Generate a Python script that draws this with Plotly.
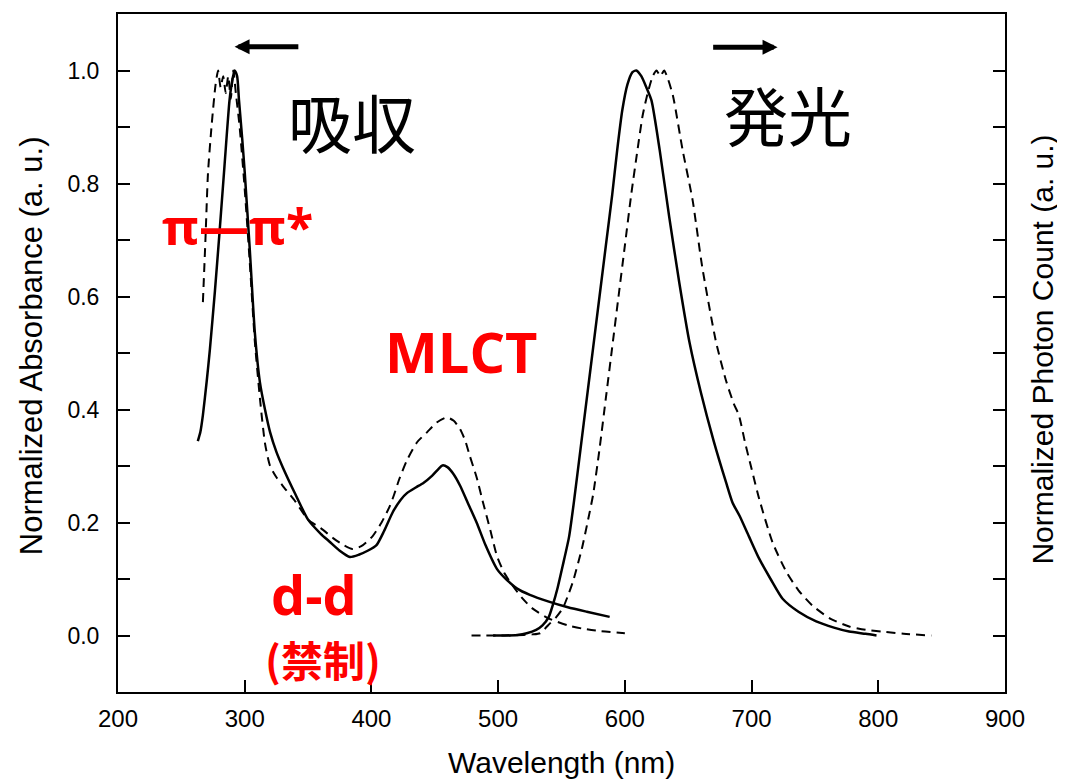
import plotly.graph_objects as go

# ---------------- data ----------------
abs_solid_wl = [263, 265, 267, 270, 272.5, 276.5, 280, 284, 288, 290, 292, 294, 295.5, 298, 300,
                304, 308, 312, 316, 320, 325, 330, 340, 350, 360, 367, 375, 383, 390, 397, 404,
                410, 417, 423, 428, 435, 441, 448, 453, 456, 460, 465, 470, 476, 483, 490, 499,
                507, 515, 525, 540, 555, 570, 588]
abs_solid_val = [0.344, 0.36, 0.39, 0.45, 0.506, 0.61, 0.71, 0.83, 0.947, 0.98, 1.0, 0.99, 0.947, 0.88, 0.82,
                 0.683, 0.536, 0.448, 0.40, 0.36, 0.325, 0.298, 0.25, 0.205, 0.18, 0.166, 0.15, 0.139, 0.143, 0.15, 0.16,
                 0.185, 0.219, 0.24, 0.252, 0.262, 0.27, 0.283, 0.295, 0.301, 0.298, 0.285, 0.265, 0.235, 0.2, 0.16, 0.118,
                 0.098, 0.083, 0.072, 0.06, 0.05, 0.042, 0.033]

abs_dash_wl = [267, 269, 271, 274, 277, 279, 281, 283, 285, 287, 289, 291, 293, 296, 300, 304, 308, 312,
               316, 320, 325, 330, 340, 350, 360, 370, 378, 385, 392, 401, 408, 414.5, 418, 422, 428,
               436, 444, 451.5, 459.5, 465, 470, 474, 477.6, 483, 488, 494, 499, 505, 511.5, 519, 527,
               540, 555, 567, 580, 600]
abs_dash_val = [0.59, 0.70, 0.818, 0.906, 0.975, 1.0, 0.97, 0.99, 0.96, 0.99, 0.95, 1.0, 0.96, 0.90, 0.79, 0.66, 0.52, 0.42,
                0.34, 0.30, 0.28, 0.265, 0.237, 0.205, 0.19, 0.172, 0.16, 0.153, 0.158, 0.176, 0.2, 0.229, 0.25, 0.277, 0.31,
                0.342, 0.36, 0.377, 0.386, 0.38, 0.365, 0.345, 0.318, 0.28, 0.236, 0.185, 0.141, 0.11, 0.088, 0.066, 0.048,
                0.03, 0.018, 0.012, 0.008, 0.004]

em_solid_wl = [496, 505, 515, 522.6, 530, 535, 540, 543, 547, 551, 556, 560, 565, 570, 575, 580, 585,
               590, 594, 598, 602, 606, 609, 613, 617, 621, 627.5, 635, 643, 651, 660, 670, 680, 685,
               690.5, 698, 706, 715, 724.5, 737, 751, 765, 777, 790, 798.6]
em_solid_val = [0.0, 0.0, 0.001, 0.004, 0.01, 0.018, 0.033, 0.053, 0.085, 0.124, 0.175, 0.24, 0.33, 0.42, 0.51, 0.60, 0.69,
                0.78, 0.86, 0.93, 0.975, 0.997, 1.0, 0.99, 0.97, 0.947, 0.859, 0.741, 0.624, 0.519, 0.43, 0.345, 0.27, 0.235,
                0.212, 0.175, 0.136, 0.10, 0.065, 0.042, 0.025, 0.014, 0.007, 0.003, 0.0]

em_dash_wl = [479, 490, 500, 510, 520, 527, 533, 540.7, 546, 551, 555, 559, 566, 571, 575, 580, 585,
              590, 595, 600, 605, 610, 614, 618, 622, 625, 628, 631, 634, 638, 645.6, 653.5, 661, 672, 680, 686,
              690, 695, 700, 706, 716.5, 727.6, 737, 748, 762, 777, 790, 803, 820, 842]
em_dash_val = [0, 0, 0, 0, 0.001, 0.002, 0.004, 0.021, 0.033, 0.048, 0.07, 0.095, 0.153, 0.205, 0.25, 0.33, 0.42,
               0.51, 0.60, 0.69, 0.78, 0.86, 0.92, 0.96, 0.99, 1.0, 0.99, 1.0, 0.985, 0.955, 0.859, 0.77, 0.653, 0.519, 0.45, 0.41,
               0.39, 0.34, 0.295, 0.242, 0.165, 0.112, 0.08, 0.053, 0.03, 0.016, 0.01, 0.007, 0.003, 0.0]

x_ticks = [200, 300, 400, 500, 600, 700, 800, 900]
y_ticks = [0.0, 0.1, 0.2, 0.3, 0.4, 0.5, 0.6, 0.7, 0.8, 0.9, 1.0]
y_ticklabels = ["0.0", "", "0.2", "", "0.4", "", "0.6", "", "0.8", "", "1.0"]

# ---------------- figure ----------------
fig = go.Figure()
solid = dict(color="black", width=2.5, shape="spline", smoothing=0.6)
dashed = dict(color="black", width=2, dash="9px,6px", shape="spline", smoothing=0.6)

fig.add_trace(go.Scatter(x=abs_solid_wl, y=abs_solid_val, mode="lines", line=solid, showlegend=False))
fig.add_trace(go.Scatter(x=abs_dash_wl, y=abs_dash_val, mode="lines", line=dashed, showlegend=False))
fig.add_trace(go.Scatter(x=em_solid_wl, y=em_solid_val, mode="lines", line=solid, showlegend=False))
fig.add_trace(go.Scatter(x=em_dash_wl, y=em_dash_val, mode="lines", line=dashed, showlegend=False))

arial = "Liberation Sans, Arial, sans-serif"
cjk = "Noto Sans CJK JP"
bold = "Open Sans, Noto Sans, sans-serif"

# page body has an 8px margin, so the figure is slightly smaller than the window
fig.update_layout(
    width=1057, height=773,
    margin=dict(l=110, r=60, t=4, b=89),
    paper_bgcolor="white", plot_bgcolor="white",
    xaxis=dict(range=[200, 900], tickvals=x_ticks, ticktext=[str(v) for v in x_ticks],
               ticks="inside", ticklen=12, tickwidth=2, tickcolor="black",
               showline=True, linewidth=2, linecolor="black", mirror=True,
               showgrid=False, zeroline=False, ticklabelstandoff=4,
               tickfont=dict(family=arial, size=24, color="black")),
    yaxis=dict(range=[-0.1, 1.1], tickvals=y_ticks, ticktext=y_ticklabels,
               ticks="inside", ticklen=12, tickwidth=2, tickcolor="black",
               showline=True, linewidth=2, linecolor="black", mirror="ticks",
               showgrid=False, zeroline=False, ticklabelstandoff=12,
               tickfont=dict(family=arial, size=23, color="black")),
)

ann = []
# axis titles
ann.append(dict(text="Normalized Absorbance (a. u.)", xref="paper", yref="paper", x=0, y=0.51,
                xshift=-87, textangle=-90, showarrow=False, xanchor="center", yanchor="middle",
                font=dict(family=arial, size=31, color="black")))
ann.append(dict(text="Normalized Photon Count (a. u.)", xref="paper", yref="paper", x=1, y=0.505,
                xshift=38, textangle=-90, showarrow=False, xanchor="center", yanchor="middle",
                font=dict(family=arial, size=30, color="black")))
ann.append(dict(text="Wavelength (nm)", xref="paper", yref="paper", x=0.5, y=0,
                yshift=-70, showarrow=False, xanchor="center", yanchor="middle",
                font=dict(family=arial, size=30, color="black")))
# labels inside plot
ann.append(dict(text="吸収", x=384.5, y=0.912, showarrow=False, font=dict(family=cjk, size=64, color="black")))
ann.append(dict(text="発光", x=728.4, y=0.924, showarrow=False, font=dict(family=cjk, size=64, color="black")))
ann.append(dict(text="<b>π—π*</b>", x=294.6, y=0.725, showarrow=False, font=dict(family=bold, size=50, color="#ff0000")))
ann.append(dict(text="<b>MLCT</b>", x=471.3, y=0.503, showarrow=False, font=dict(family=bold, size=56, color="#ff0000")))
ann.append(dict(text="<b>d-d</b>", x=354.6, y=0.074, showarrow=False, font=dict(family=bold, size=54, color="#ff0000")))
ann.append(dict(text="<b>(禁制)</b>", x=362, y=-0.04, showarrow=False, font=dict(family=cjk, size=42, color="#ff0000")))
# direction arrows
ann.append(dict(x=292, y=1.042, ax=343.5, ay=1.042, xref="x", yref="y", axref="x", ayref="y",
                text="", showarrow=True, arrowhead=2, arrowsize=0.6, arrowwidth=5, arrowcolor="black"))
ann.append(dict(x=720.5, y=1.041, ax=668.5, ay=1.041, xref="x", yref="y", axref="x", ayref="y",
                text="", showarrow=True, arrowhead=2, arrowsize=0.6, arrowwidth=5, arrowcolor="black"))
fig.update_layout(annotations=ann)

fig.write_html("out.html")
